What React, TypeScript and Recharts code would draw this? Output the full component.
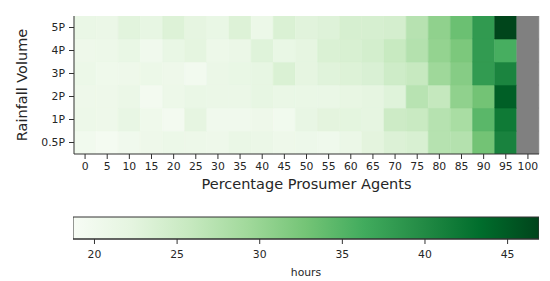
import React from 'react';
import { BarChart, Bar, Cell, XAxis, YAxis } from 'recharts';

// categories
const agentPcts = ['0', '5', '10', '15', '20', '25', '30', '35', '40', '45', '50', '55', '60', '65', '70', '75', '80', '85', '90', '95', '100'];
const rainfallLevels = ['0.5P', '1P', '2P', '3P', '4P', '5P'];

// hours per cell, one array per rainfall level (100% column has no value)
const hours05P = [19.9, 19.3, 20.1, 20.5, 20.9, 20.7, 20.5, 21.2, 21.0, 20.5, 20.6, 20.2, 21.0, 22.4, 23.3, 23.8, 27.3, 27.5, 32.9, 40.9, null];
const hours1P = [20.7, 20.5, 21.6, 20.3, 19.5, 22.0, 20.1, 20.1, 20.5, 19.9, 21.6, 22.4, 22.3, 22.0, 25.1, 25.5, 27.3, 28.5, 34.6, 41.9, null];
const hours2P = [20.5, 20.5, 21.0, 19.5, 20.7, 21.2, 21.0, 21.0, 21.8, 21.2, 21.2, 21.2, 21.7, 22.0, 22.9, 27.1, 25.9, 30.6, 32.9, 44.6, null];
const hours3P = [20.9, 20.3, 20.5, 20.9, 20.5, 19.7, 21.0, 21.4, 21.8, 23.5, 22.1, 22.8, 23.2, 23.6, 24.9, 25.7, 29.4, 31.4, 38.1, 40.7, null];
const hours4P = [20.5, 20.7, 21.4, 20.1, 21.4, 22.2, 20.7, 21.0, 22.9, 21.4, 22.1, 23.5, 23.8, 24.3, 25.6, 27.5, 30.3, 32.2, 38.1, 35.9, null];
const hours5P = [21.2, 21.0, 22.6, 21.8, 23.2, 22.0, 21.4, 23.2, 20.9, 23.5, 22.7, 23.0, 24.0, 24.0, 24.2, 27.2, 30.6, 33.4, 38.2, 46.8, null];

// colour scale
const colorMin = 18.7;
const colorMax = 46.9;
const colorbarTicks = [20, 25, 30, 35, 40, 45];

const hoursByLevel: (number | null)[][] = [hours05P, hours1P, hours2P, hours3P, hours4P, hours5P];

// matplotlib "Greens"
const greensStops = ['#f7fcf5', '#e5f5e0', '#c7e9c0', '#a1d99b', '#74c476', '#41ab5d', '#238b45', '#006d2c', '#00441b'];

const hexToRgb = (h: string) => [1, 3, 5].map((i) => parseInt(h.slice(i, i + 2), 16));

const greens = (v: number | null) => {
    if (v == null) return '#808080';
    const t = Math.min(1, Math.max(0, (v - colorMin) / (colorMax - colorMin)));
    const pos = t * (greensStops.length - 1);
    const i = Math.min(greensStops.length - 2, Math.floor(pos));
    const f = pos - i;
    const a = hexToRgb(greensStops[i]);
    const b = hexToRgb(greensStops[i + 1]);
    const c = a.map((x, k) => Math.round(x + (b[k] - x) * f));
    return `rgb(${c[0]},${c[1]},${c[2]})`;
};

// each cell is one unit tall in the stack
const gridData = agentPcts.map((pct) => {
    const row: Record<string, string | number> = { pct };
    rainfallLevels.forEach((level) => {
        row[level] = 1;
    });
    return row;
});

// colour bar is a single range bar across the scale
const colorbarData = [{ name: 'hours', range: [colorMin, colorMax] }];

const textColor = '#262626';
const axisColor = '#333';

const App: React.FC = () => {
    return (
        <div style={{ position: 'fixed', left: 0, top: 0, width: 550, height: 281, background: '#fff', fontFamily: '"DejaVu Sans", sans-serif' }}>
            <BarChart
                width={550}
                height={200}
                data={gridData}
                margin={{ top: 16, right: 11, left: 0, bottom: 0 }}
                barCategoryGap={0}
                barGap={0}
            >
                <XAxis
                    dataKey="pct"
                    interval={0}
                    height={46}
                    tickSize={5}
                    tickMargin={3}
                    stroke={axisColor}
                    tick={{ fill: textColor, fontSize: 10.8 }}
                    label={{ value: 'Percentage Prosumer Agents', position: 'center', dy: 7, fill: textColor, fontSize: 14.5 }}
                />
                <XAxis xAxisId="top" dataKey="pct" orientation="top" height={0} tick={false} tickLine={false} stroke={axisColor} />
                <YAxis
                    type="number"
                    domain={[0, rainfallLevels.length]}
                    allowDataOverflow
                    ticks={rainfallLevels.map((_, i) => i + 0.5)}
                    tickFormatter={(v: number) => rainfallLevels[Math.floor(v)]}
                    width={74}
                    tickSize={5}
                    tickMargin={4}
                    stroke={axisColor}
                    tick={{ fill: textColor, fontSize: 10.8 }}
                    label={{ value: 'Rainfall Volume', angle: -90, position: 'center', dx: -15, fill: textColor, fontSize: 14.5 }}
                />
                <YAxis yAxisId="right" orientation="right" width={0} tick={false} tickLine={false} stroke={axisColor} />
                {rainfallLevels.map((level, j) => (
                    <Bar key={level} dataKey={level} stackId="grid" isAnimationActive={false}>
                        {agentPcts.map((pct, i) => {
                            const fill = greens(hoursByLevel[j][i]);
                            return <Cell key={`cell-${level}-${pct}`} fill={fill} stroke={fill} strokeWidth={0.6} />;
                        })}
                    </Bar>
                ))}
            </BarChart>
            <div style={{ position: 'absolute', left: 0, top: 200 }}>
                <BarChart
                    width={550}
                    height={81}
                    layout="vertical"
                    data={colorbarData}
                    margin={{ top: 17, right: 11, left: 73, bottom: 0 }}
                    barCategoryGap={0}
                >
                    <defs>
                        <linearGradient id="greensGradient" x1="0" y1="0" x2="1" y2="0">
                            {greensStops.map((c, i) => (
                                <stop key={c} offset={`${(i / (greensStops.length - 1)) * 100}%`} stopColor={c} />
                            ))}
                        </linearGradient>
                    </defs>
                    <XAxis
                        type="number"
                        domain={[colorMin, colorMax]}
                        ticks={colorbarTicks}
                        allowDataOverflow
                        height={42}
                        tickSize={5}
                        tickMargin={6}
                        stroke={axisColor}
                        tick={{ fill: textColor, fontSize: 10.8 }}
                        label={{ value: 'hours', position: 'center', dy: 12, fill: textColor, fontSize: 10.8 }}
                    />
                    <YAxis type="category" dataKey="name" hide />
                    <Bar dataKey="range" fill="url(#greensGradient)" stroke={axisColor} strokeWidth={1} isAnimationActive={false} />
                </BarChart>
            </div>
        </div>
    );
};

export default App;
